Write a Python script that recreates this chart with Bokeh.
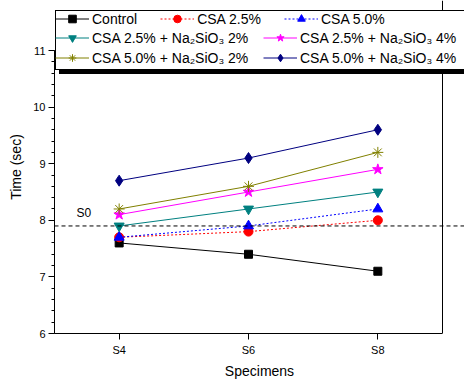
from bokeh.plotting import figure
from bokeh.models import Legend, LegendItem, Span, Label, FixedTicker, Range1d
from bokeh.embed import file_html
from bokeh.resources import INLINE

# ---- data ----
specimens = ["S4", "S6", "S8"]
x_pos = [0, 1, 2]
control = [7.6, 7.4, 7.1]
csa25 = [7.7, 7.8, 8.0]
csa50 = [7.7, 7.9, 8.2]
csa25_na2 = [7.9, 8.2, 8.5]
csa25_na4 = [8.1, 8.5, 8.9]
csa50_na2 = [8.2, 8.6, 9.2]
csa50_na4 = [8.7, 9.1, 9.6]
s0_value = 7.9
y_ticks = [6, 7, 8, 9, 10, 11]

names = ["Control", "CSA 2.5%", "CSA 5.0%",
         "CSA 2.5% + Na\u2082SiO\u2083 2%", "CSA 2.5% + Na\u2082SiO\u2083 4%",
         "CSA 5.0% + Na\u2082SiO\u2083 2%", "CSA 5.0% + Na\u2082SiO\u2083 4%"]
values = [control, csa25, csa50, csa25_na2, csa25_na4, csa50_na2, csa50_na4]
colors = ["#000000", "#FF0000", "#0000FF", "#008080", "#FF00FF", "#808000", "#000080"]
dashes = ["solid", "2 2", "2 2", "solid", "solid", "solid", "solid"]
markers = ["square", "circle", "triangle", "inverted_triangle", "star", "asterisk", "diamond"]
sizes = [8, 9, 10, 10, 11, 11, 11]

FONT = "Liberation Sans"

# layout (pixels)
W, H = 464, 382
FRAME_L, FRAME_R_AXIS, FRAME_B, FRAME_T_AXIS = 54, 442, 333, 50
x_lo, x_hi = -0.5, len(specimens) - 0.5
y_lo, y_hi = y_ticks[0], y_ticks[-1]
px_x = (FRAME_R_AXIS - FRAME_L) / (x_hi - x_lo)
px_y = (FRAME_B - FRAME_T_AXIS) / (y_hi - y_lo)
x_end = x_hi + (W - FRAME_R_AXIS) / px_x
y_end = y_hi + FRAME_T_AXIS / px_y

p = figure(width=W, height=H, output_backend="svg", toolbar_location=None,
           x_range=Range1d(x_lo, x_end), y_range=Range1d(y_lo, y_end),
           min_border_left=FRAME_L, min_border_right=0, min_border_top=0,
           min_border_bottom=H - FRAME_B)
p.background_fill_color = "white"
p.border_fill_color = "white"
p.outline_line_color = None
p.xgrid.visible = False
p.ygrid.visible = False

items = []
for name, vals, c, d, m, s in zip(names, values, colors, dashes, markers, sizes):
    lr = p.line(x_pos, vals, line_color=c, line_width=1, line_dash=d)
    sr = p.scatter(x_pos, vals, marker=m, size=s, fill_color=c, line_color=c, line_width=1)
    items.append((name, [lr, sr]))

# right frame border (end of x range) and top frame border (end of y range)
p.add_layout(Span(location=x_hi, dimension="height", line_color="black", line_width=1))
p.add_layout(Span(location=y_hi, dimension="width", line_color="black", line_width=1))

span = Span(location=s0_value, dimension="width", line_color="black",
            line_dash="4 3", line_width=1)
p.add_layout(span)
p.add_layout(Label(x=x_lo, y=s0_value, x_offset=22, y_offset=6, text="S0",
                   text_font=FONT, text_font_size="12px", text_color="black"))

# axes
p.xaxis.ticker = FixedTicker(ticks=x_pos)
p.xaxis.major_label_overrides = {x: lab for x, lab in zip(x_pos, specimens)}
p.xaxis.minor_tick_line_color = None
p.xaxis.bounds = (x_lo, x_hi)
p.yaxis.bounds = (y_lo, y_hi)
p.yaxis.ticker = FixedTicker(ticks=y_ticks,
                             minor_ticks=[y_lo + 0.2 * i for i in range(26)])
for ax in (p.xaxis[0], p.yaxis[0]):
    ax.axis_line_color = "black"
    ax.major_tick_line_color = "black"
    ax.major_tick_in = 0
    ax.major_tick_out = 6
    ax.minor_tick_in = 0
    ax.minor_tick_out = 3
    ax.major_label_text_font = FONT
    ax.major_label_text_font_size = "11px"
    ax.major_label_text_color = "black"
    ax.axis_label_text_font = FONT
    ax.axis_label_text_font_size = "14px"
    ax.axis_label_text_font_style = "normal"
    ax.axis_label_text_color = "black"
p.xaxis.axis_label = "Specimens"
p.yaxis.axis_label = "Time (sec)"
p.xaxis.major_label_standoff = 4
p.yaxis.major_label_standoff = 3
p.xaxis.axis_label_standoff = 4
p.yaxis.axis_label_standoff = 6


def legend_common(lg):
    lg.label_text_font = FONT
    lg.label_text_font_size = "14px"
    lg.label_text_color = "black"
    lg.glyph_width = 34
    lg.glyph_height = 19
    lg.label_height = 19
    lg.label_standoff = 3
    lg.padding = 2
    lg.margin = 0
    lg.spacing = 1
    lg.click_policy = "none"
    lg.border_line_alpha = 1.0


dummy = p.line([], [], line_alpha=0)

# legend box geometry (pixels)
BOX_LEFT, BOX_BOTTOM, BOX_W = 55, 70, 408
box_label_w = BOX_W - 2 * 1 - 34 - 3


def blank_items():
    return [LegendItem(label=" ", renderers=[dummy]) for _ in range(3)]


def col_items(idx):
    return [LegendItem(label=" ", renderers=[dummy])] + \
           [LegendItem(label=items[i][0], renderers=items[i][1]) for i in idx]


def frame_style(lg):
    legend_common(lg)
    lg.padding = 1
    lg.label_height = 18
    lg.glyph_height = 18


shadow = Legend(items=blank_items(),
                location=(BOX_LEFT - FRAME_L + 4, FRAME_B - BOX_BOTTOM - 4),
                label_width=box_label_w,
                background_fill_color="black", background_fill_alpha=1.0,
                border_line_color="black")
frame_style(shadow)

box = Legend(items=blank_items(), location=(BOX_LEFT - FRAME_L, FRAME_B - BOX_BOTTOM),
             label_width=box_label_w,
             background_fill_color="white", background_fill_alpha=1.0,
             border_line_color="black")
frame_style(box)
box.border_line_width = 1

col1 = Legend(items=col_items([3, 5]), location=(BOX_LEFT - FRAME_L, FRAME_B - 67),
              background_fill_alpha=0.0, border_line_color=None)
legend_common(col1)

col2 = Legend(items=col_items([4, 6]), location=(263 - FRAME_L, FRAME_B - 67),
              background_fill_alpha=0.0, border_line_color=None)
legend_common(col2)

row1 = Legend(items=[LegendItem(label=n, renderers=r) for n, r in items[:3]],
              orientation="horizontal", location=(BOX_LEFT - FRAME_L, FRAME_B - 28),
              background_fill_alpha=0.0, border_line_color=None)
legend_common(row1)
row1.spacing = 23

p.add_layout(shadow)
p.add_layout(box)
p.add_layout(col1)
p.add_layout(col2)
p.add_layout(row1)

open("out.html", "w").write(file_html(p, INLINE))
